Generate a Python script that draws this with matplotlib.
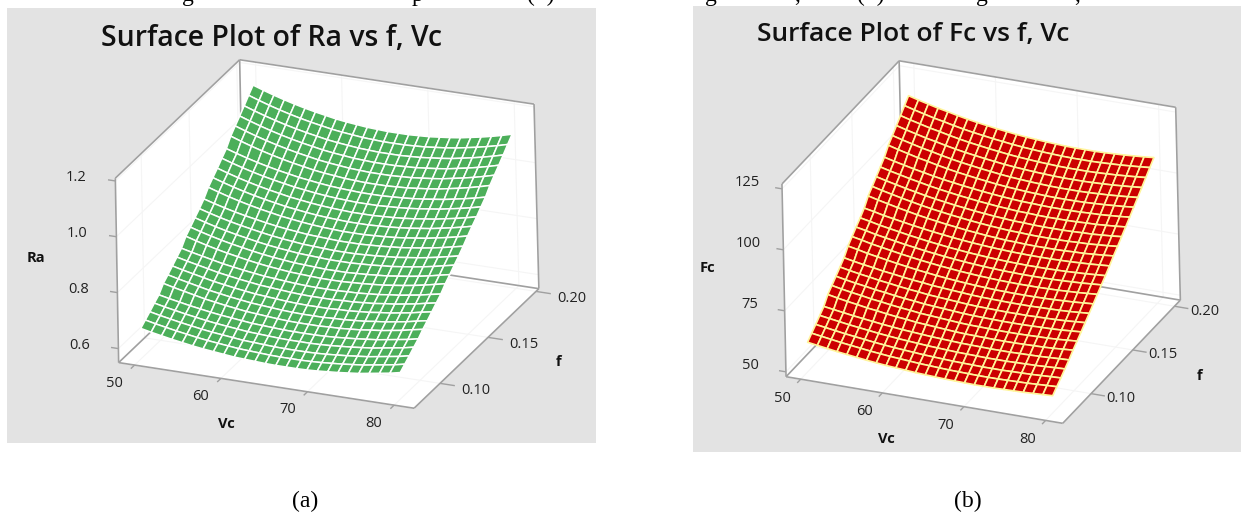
import numpy as np
import matplotlib
matplotlib.use("Agg")
import matplotlib.pyplot as plt
from matplotlib.patches import Rectangle
from mpl_toolkits.mplot3d import proj3d
from mpl_toolkits.mplot3d.art3d import Poly3DCollection, Line3DCollection

W, H = 1241, 515

# ============================
# DATA
# ============================
vc_values = [50, 51.2, 52.4, 53.6, 54.8, 56, 57.2, 58.4, 59.6, 60.8, 62, 63.2, 64.4,
             65.6, 66.8, 68, 69.2, 70.4, 71.6, 72.8, 74, 75.2, 76.4, 77.6, 78.8, 80]
f_values_a = [0.0800, 0.0848, 0.0896, 0.0944, 0.0992, 0.1040, 0.1088, 0.1136, 0.1184, 0.1232, 0.1280, 0.1328, 0.1376,
              0.1424, 0.1472, 0.1520, 0.1568, 0.1616, 0.1664, 0.1712, 0.1760, 0.1808, 0.1856, 0.1904, 0.1952, 0.2000]
f_values_b = [0.075, 0.080, 0.085, 0.090, 0.095, 0.100, 0.105, 0.110, 0.115, 0.120, 0.125, 0.130, 0.135,
              0.140, 0.145, 0.150, 0.155, 0.160, 0.165, 0.170, 0.175, 0.180, 0.185, 0.190, 0.195, 0.200]

# rows go with f, columns with Vc; Ra in thousandths
ra_table = [
    [658,650,643,636,630,624,619,615,611,607,605,603,601,600,600,600,601,603,606,609,613,617,623,629,635,643],
    [672,664,657,650,644,638,633,629,625,621,619,617,615,614,614,614,615,617,620,623,627,631,637,643,649,657],
    [686,678,671,664,658,652,647,643,639,635,633,631,629,628,628,628,629,631,634,637,641,645,651,657,663,671],
    [701,693,686,679,673,667,662,658,654,650,648,646,644,643,643,643,644,646,649,652,656,660,666,672,678,686],
    [715,707,700,693,687,681,676,672,668,664,662,660,658,657,657,657,658,660,663,666,670,674,680,686,692,700],
    [740,731,723,715,707,701,695,690,685,682,679,676,674,673,673,673,675,676,679,682,687,691,697,703,711,718],
    [755,746,738,730,722,716,710,705,700,697,694,691,689,688,688,688,690,691,694,697,702,706,712,718,726,733],
    [771,762,754,746,738,732,726,721,716,713,710,707,705,704,704,704,706,707,710,713,718,722,728,734,742,749],
    [787,778,770,762,754,748,742,737,732,729,726,723,721,720,720,720,722,723,726,729,734,738,744,750,758,765],
    [803,794,786,778,770,764,758,753,748,745,742,739,737,736,736,736,738,739,742,745,750,754,760,766,774,781],
    [830,819,809,800,792,785,778,772,767,763,759,757,755,753,753,753,755,757,760,763,768,773,779,786,794,802],
    [847,836,826,817,809,802,795,789,784,780,776,774,772,770,770,770,772,774,777,780,785,790,796,803,811,819],
    [865,854,844,835,827,820,813,807,802,798,794,792,790,788,788,788,790,792,795,798,803,808,814,821,829,837],
    [882,871,861,852,844,837,830,824,819,815,811,809,807,805,805,805,807,809,812,815,820,825,831,838,846,854],
    [901,890,880,871,863,856,849,843,838,834,830,828,826,824,824,824,826,828,831,834,839,844,850,857,865,873],
    [927,915,904,894,885,877,870,863,858,853,849,846,844,842,842,842,844,846,849,853,858,863,870,877,885,894],
    [946,934,923,913,904,896,889,882,877,872,868,865,863,861,861,861,863,865,868,872,877,882,889,896,904,913],
    [964,952,941,931,922,914,907,900,895,890,886,883,881,879,879,879,881,883,886,890,895,900,907,914,922,931],
    [984,972,961,951,942,934,927,920,915,910,906,903,901,899,899,899,901,903,906,910,915,920,927,934,942,951],
    [1003,991,980,970,961,953,946,939,934,929,925,922,920,918,918,918,920,922,925,929,934,939,946,953,961,970],
    [1032,1019,1007,996,986,977,969,962,955,950,946,942,940,938,938,938,940,942,946,950,955,962,969,977,986,996],
    [1053,1040,1028,1017,1007,998,990,983,976,971,967,963,961,959,959,959,961,963,967,971,976,983,990,998,1007,1017],
    [1073,1060,1048,1037,1027,1018,1010,1003,996,991,987,983,981,979,979,979,981,983,987,991,996,1003,1010,1018,1027,1037],
    [1094,1081,1069,1058,1048,1039,1031,1024,1017,1012,1008,1004,1002,1000,1000,1000,1002,1004,1008,1012,1017,1024,1031,1039,1048,1058],
    [1116,1103,1091,1080,1070,1061,1053,1046,1039,1034,1030,1026,1024,1022,1022,1022,1024,1026,1030,1034,1039,1046,1053,1061,1070,1080],
    [1137,1124,1112,1101,1091,1082,1074,1067,1060,1055,1051,1047,1045,1043,1043,1043,1045,1047,1051,1055,1060,1067,1074,1082,1091,1101],
]

# Fc in tenths
fc_table = [
    [599,593,587,581,576,571,566,562,558,555,552,549,547,545,543,542,541,540,540,540,541,542,543,545,547,549],
    [618,612,606,600,595,590,585,581,577,574,571,568,566,564,562,561,560,559,559,559,560,561,562,564,566,568],
    [636,630,624,618,613,608,603,599,595,592,589,586,584,582,580,579,578,577,577,577,578,579,580,582,584,586],
    [655,649,643,637,632,627,622,618,614,611,608,605,603,601,599,598,597,596,596,596,597,598,599,601,603,605],
    [674,668,662,656,651,646,641,637,633,630,627,624,622,620,618,617,616,615,615,615,616,617,618,620,622,624],
    [705,697,690,684,677,672,666,661,657,652,649,646,643,640,638,637,636,635,635,635,636,637,638,640,643,646],
    [724,716,709,703,696,691,685,680,676,671,668,665,662,659,657,656,655,654,654,654,655,656,657,659,662,665],
    [744,736,729,723,716,711,705,700,696,691,688,685,682,679,677,676,675,674,674,674,675,676,677,679,682,685],
    [764,756,749,743,736,731,725,720,716,711,708,705,702,699,697,696,695,694,694,694,695,696,697,699,702,705],
    [784,776,769,763,756,751,745,740,736,731,728,725,722,719,717,716,715,714,714,714,715,716,717,719,722,725],
    [814,806,797,790,783,776,770,764,759,754,750,746,743,740,738,736,735,734,734,734,735,736,738,740,743,746],
    [835,827,818,811,804,797,791,785,780,775,771,767,764,761,759,757,756,755,755,755,756,757,759,761,764,767],
    [856,848,839,832,825,818,812,806,801,796,792,788,785,782,780,778,777,776,776,776,777,778,780,782,785,788],
    [876,868,859,852,845,838,832,826,821,816,812,808,805,802,800,798,797,796,796,796,797,798,800,802,805,808],
    [898,890,881,874,867,860,854,848,843,838,834,830,827,824,822,820,819,818,818,818,819,820,822,824,827,830],
    [930,920,911,902,894,886,879,873,867,862,857,853,849,846,843,842,840,839,839,839,840,842,843,846,849,853],
    [951,941,932,923,915,907,900,894,888,883,878,874,870,867,864,863,861,860,860,860,861,863,864,867,870,874],
    [973,963,954,945,937,929,922,916,910,905,900,896,892,889,886,885,883,882,882,882,883,885,886,889,892,896],
    [995,985,976,967,959,951,944,938,932,927,922,918,914,911,908,907,905,904,904,904,905,907,908,911,914,918],
    [1017,1007,998,989,981,973,966,960,954,949,944,940,936,933,930,929,927,926,926,926,927,929,930,933,936,940],
    [1048,1037,1027,1017,1009,1000,992,985,979,973,968,963,959,956,953,951,949,948,948,948,949,951,953,956,959,963],
    [1070,1059,1049,1039,1031,1022,1014,1007,1001,995,990,985,981,978,975,973,971,970,970,970,971,973,975,978,981,985],
    [1093,1082,1072,1062,1054,1045,1037,1030,1024,1018,1013,1008,1004,1001,998,996,994,993,993,993,994,996,998,1001,1004,1008],
    [1116,1105,1095,1085,1077,1068,1060,1053,1047,1041,1036,1031,1027,1024,1021,1019,1017,1016,1016,1016,1017,1019,1021,1024,1027,1031],
    [1139,1128,1118,1108,1100,1091,1083,1076,1070,1064,1059,1054,1050,1047,1044,1042,1040,1039,1039,1039,1040,1042,1044,1047,1050,1054],
    [1162,1151,1141,1131,1123,1114,1106,1099,1093,1087,1082,1077,1073,1070,1067,1065,1063,1062,1062,1062,1063,1065,1067,1070,1073,1077],
]

vc_ticks = [50, 60, 70, 80]
f_ticks = [0.10, 0.15, 0.20]
ra_ticks = [0.6, 0.8, 1.0, 1.2]
fc_ticks = [50, 75, 100, 125]

GRAY = "#E3E3E3"
LINE = "#A0A0A0"
FAINT = "#F5F5F5"


def fit_camera(box, pixels):
    # DLT: 3x4 camera from box corners to image pixels
    (x0, x1), (y0, y1), (z0, z1) = box
    N = np.array([[1 / (x1 - x0), 0, 0, -x0 / (x1 - x0)],
                  [0, 1 / (y1 - y0), 0, -y0 / (y1 - y0)],
                  [0, 0, 1 / (z1 - z0), -z0 / (z1 - z0)],
                  [0, 0, 0, 1]])
    rows = []
    for (a, b, c), (px, py) in pixels.items():
        p = [a, b, c, 1]
        rows.append(p + [0, 0, 0, 0] + [-px / 1000 * q for q in p])
        rows.append([0, 0, 0, 0] + p + [-py / 1000 * q for q in p])
    P = np.linalg.svd(np.array(rows))[2][-1].reshape(3, 4)
    if P[2, 3] < 0:
        P = -P
    P[:2] *= 1000
    depth = np.array([-0.5, 1.0, -0.3, 0.5]) * abs(P[2, 3])
    M = np.vstack([P[0], P[1], depth, P[2]])
    return M @ N


def draw_panel(vc, f, z, box, pixels, zticks, zfmt, face, edge, lw, off):
    ax = fig.add_axes([0, 0, 1, 1], projection="3d")
    ax.set_axis_off()
    ax.patch.set_visible(False)
    ax.computed_zorder = False
    # corners are given in the unit box of the axes ranges
    M = fit_camera(box, pixels)
    ax.get_proj = lambda: M
    ax.apply_aspect = lambda position=None: None
    (x0, x1), (y0, y1), (z0, z1) = box

    # white walls and floor
    walls = [
        [(x0, y0, z0), (x0, y1, z0), (x0, y1, z1), (x0, y0, z1)],
        [(x0, y1, z0), (x1, y1, z0), (x1, y1, z1), (x0, y1, z1)],
        [(x0, y0, z0), (x1, y0, z0), (x1, y1, z0), (x0, y1, z0)],
    ]
    ax.add_collection3d(Poly3DCollection(walls, facecolor="white", edgecolor="white", zorder=1))

    # faint grid
    grid = []
    for t in zticks:
        grid += [[(x0, y0, t), (x0, y1, t)], [(x0, y1, t), (x1, y1, t)]]
    for t in vc_ticks:
        grid += [[(t, y0, z0), (t, y1, z0)], [(t, y1, z0), (t, y1, z1)]]
    for t in f_ticks:
        grid += [[(x1, t, z0), (x0, t, z0)], [(x0, t, z0), (x0, t, z1)]]
    ax.add_collection3d(Line3DCollection(grid, colors=FAINT, linewidths=0.8, zorder=2))

    # box edges
    edges = [
        [(x0, y0, z0), (x1, y0, z0)], [(x1, y0, z0), (x1, y1, z0)],
        [(x0, y0, z0), (x0, y1, z0)], [(x0, y1, z0), (x1, y1, z0)],
        [(x0, y0, z0), (x0, y0, z1)], [(x0, y1, z0), (x0, y1, z1)],
        [(x1, y1, z0), (x1, y1, z1)], [(x0, y0, z1), (x0, y1, z1)],
        [(x0, y1, z1), (x1, y1, z1)],
    ]
    ax.add_collection3d(Line3DCollection(edges, colors=LINE, linewidths=1.2, zorder=3))

    # ticks
    ticks = []
    for t in vc_ticks:
        ticks.append([(t, y0, z0), (t, y0 - 0.03 * (y1 - y0), z0)])
    for t in f_ticks:
        ticks.append([(x1, t, z0), (x1 + 0.05 * (x1 - x0), t, z0)])
    for t in zticks:
        ticks.append([(x0, y0, t), (x0 - 0.025 * (x1 - x0), y0, t)])
    ax.add_collection3d(Line3DCollection(ticks, colors=LINE, linewidths=1.0, zorder=3))

    V, F = np.meshgrid(vc, f)
    ax.plot_surface(V, F, z, color=face, edgecolor=edge, linewidth=lw, shade=False,
                    rstride=1, cstride=1, zorder=5)

    # tick labels sit a fixed pixel offset from their tick
    def label(text, pos, dx, dy):
        px, py, _ = proj3d.proj_transform(pos[0], pos[1], pos[2], M)
        ax.annotate(text, xy=(px, py), xytext=(dx, -dy), textcoords="offset pixels",
                    ha="center", va="center", fontsize=10.5, color="#222222",
                    family="Open Sans")

    for t in vc_ticks:
        label(str(t), (t, y0, z0), off["vc"][0], off["vc"][1])
    for t in f_ticks:
        label(f"{t:.2f}", (x1, t, z0), off["f"][0], off["f"][1])
    for t in zticks:
        label(zfmt.format(t), (x0, y0, t), off["z"][0], off["z"][1])

    ax.set_xlim(x0, x1)
    ax.set_ylim(y0, y1)
    ax.set_zlim(z0, z1)
    ax.viewLim.intervalx = (0, W)
    ax.viewLim.intervaly = (H, 0)
    return ax


fig = plt.figure(figsize=(W / 100, H / 100), dpi=100, facecolor="white")

# grey panels behind the plots
for x, y, w, h in [(7, 8, 589, 435), (693, 6, 548, 446)]:
    fig.patches.append(Rectangle((x / W, 1 - (y + h) / H), w / W, h / H, transform=fig.transFigure,
                                 facecolor=GRAY, edgecolor="none", zorder=-1))

# ============================
# PANEL (a)
# ============================
box_a = ((48.15, 82.3), (0.073, 0.203), (0.55, 1.21))
corners_a = {
    (0, 0, 0): (119, 363), (1, 0, 0): (414, 408), (1, 1, 0): (539, 289), (0, 1, 0): (243, 243),
    (0, 0, 1): (115, 178), (1, 1, 1): (534, 104), (0, 1, 1): (240, 60),
}
draw_panel(vc_values, f_values_a, np.array(ra_table) / 1000, box_a, corners_a, ra_ticks, "{:.1f}",
           "#4CAF5A", "white", 1.1, {"vc": (-20, 18), "f": (36, 7), "z": (-39, -3)})

# ============================
# PANEL (b)
# ============================
box_b = ((48.2, 82.1), (0.066, 0.207), (48, 127))
corners_b = {
    (0, 0, 0): (786.3, 377), (1, 0, 0): (1062.8, 423), (1, 1, 0): (1180.4, 300.7), (0, 1, 0): (903, 253),
    (0, 0, 1): (781.6, 184), (1, 1, 1): (1175.6, 107), (0, 1, 1): (899.6, 61),
}
draw_panel(vc_values, f_values_b, np.array(fc_table) / 10, box_b, corners_b, fc_ticks, "{:.0f}",
           "#CC0000", "#FFF59A", 1.2, {"vc": (-18, 19), "f": (30, 5), "z": (-35, -6)})


# ============================
# TEXT
# ============================
def put(x, y, s, **kw):
    fig.text(x / W, 1 - y / H, s, **kw)


put(101, 38, "Surface Plot of Ra vs f, Vc", fontsize=20.4, family="Open Sans", weight="semibold", va="center", color="#111111")
put(757, 34, "Surface Plot of Fc vs f, Vc", fontsize=19, family="Open Sans", weight="semibold", va="center", color="#111111")
for x, y, s in [(36, 258, "Ra"), (226, 424, "Vc"), (559, 362, "f"),
                (707, 268, "Fc"), (886, 439, "Vc"), (1199.5, 376, "f")]:
    put(x, y, s, fontsize=10.5, family="Open Sans", weight="bold", ha="center", va="center", color="#111111")

put(305, 501, "(a)", fontsize=17, family="Liberation Serif", ha="center", va="center")
put(968, 501, "(b)", fontsize=17, family="Liberation Serif", ha="center", va="center")

# bottom of the caption line that is cut off by the crop
for x, s in [(188, "g"), (417, "p"), (541, "(  )"), (711, "g"), (797, ","), (871, "(  )"), (982, "g"), (1077, ",")]:
    put(x, 1, s, fontsize=17, family="Liberation Serif", ha="center", va="baseline")

fig.savefig("out.png", dpi=100)
